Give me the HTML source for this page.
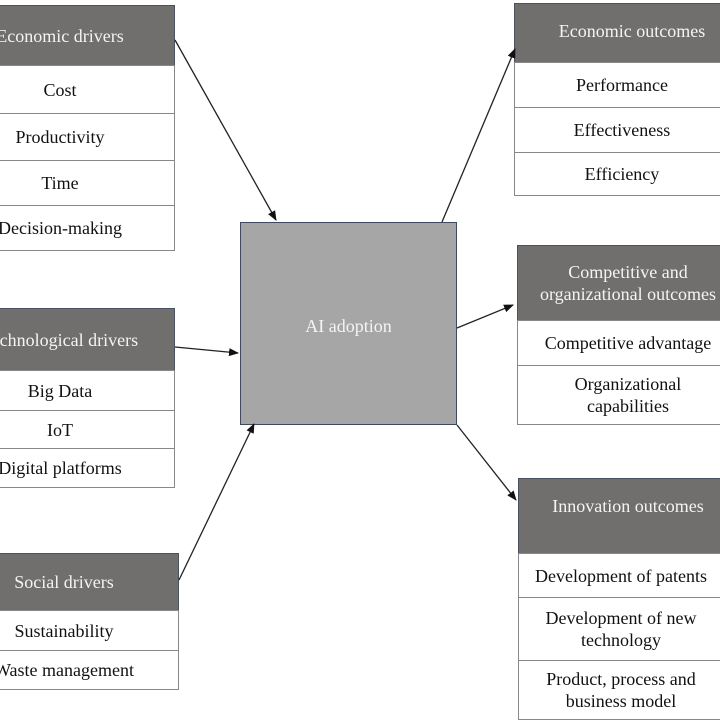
<!DOCTYPE html><html><head><style>
body{margin:0;width:720px;height:720px;background:#fff;position:relative;overflow:hidden;font-family:"Liberation Serif",serif;}
.b{position:absolute;box-sizing:border-box;display:flex;align-items:center;justify-content:center;text-align:center;font-size:18px;line-height:22px;color:#111;}
.h{background:#716e6e;color:#f4f4f4;border:1px solid #4a5160;}
.r{background:#fff;border:1.5px solid #888;}
</style></head><body>
<div class="b h" style="left:-55px;top:5px;width:230px;height:61px">Economic drivers</div>
<div class="b r" style="left:-55px;top:65px;width:230px;height:49px">Cost</div>
<div class="b r" style="left:-55px;top:113px;width:230px;height:48px">Productivity</div>
<div class="b r" style="left:-55px;top:160px;width:230px;height:46px">Time</div>
<div class="b r" style="left:-55px;top:205px;width:230px;height:46px">Decision-making</div>

<div class="b h" style="left:-55px;top:308px;width:230px;height:63px">Technological drivers</div>
<div class="b r" style="left:-55px;top:370px;width:230px;height:41px">Big Data</div>
<div class="b r" style="left:-55px;top:410px;width:230px;height:39px">IoT</div>
<div class="b r" style="left:-55px;top:448px;width:230px;height:40px">Digital platforms</div>

<div class="b h" style="left:-51px;top:553px;width:230px;height:58px">Social drivers</div>
<div class="b r" style="left:-51px;top:610px;width:230px;height:41px">Sustainability</div>
<div class="b r" style="left:-51px;top:650px;width:230px;height:40px">Waste management</div>

<div class="b" style="left:240px;top:222px;width:217px;height:203px;background:#a6a6a6;border:1.5px solid #3f4a5e;color:#f4f4f4;align-items:flex-start;padding-top:92px">AI adoption</div>

<div class="b h" style="left:514px;top:3px;width:236px;height:60px;padding-bottom:4px">Economic outcomes</div>
<div class="b r" style="left:514px;top:62px;width:236px;height:46px;padding-right:20px">Performance</div>
<div class="b r" style="left:514px;top:107px;width:236px;height:46px;padding-right:20px">Effectiveness</div>
<div class="b r" style="left:514px;top:152px;width:236px;height:44px;padding-right:20px">Efficiency</div>

<div class="b h" style="left:517px;top:245px;width:222px;height:76px">Competitive and<br>organizational outcomes</div>
<div class="b r" style="left:517px;top:320px;width:222px;height:46px">Competitive advantage</div>
<div class="b r" style="left:517px;top:365px;width:222px;height:60px">Organizational<br>capabilities</div>

<div class="b h" style="left:518px;top:478px;width:220px;height:76px;align-items:flex-start;padding-top:16px">Innovation outcomes</div>
<div class="b r" style="left:518px;top:553px;width:220px;height:45px;padding-right:14px">Development of patents</div>
<div class="b r" style="left:518px;top:597px;width:220px;height:64px;padding-right:14px">Development of new<br>technology</div>
<div class="b r" style="left:518px;top:660px;width:220px;height:60px;padding-right:14px">Product, process and<br>business model</div>

<svg width="720" height="720" style="position:absolute;left:0;top:0">
<defs><marker id="a" markerWidth="10" markerHeight="8" refX="9" refY="4" orient="auto" markerUnits="userSpaceOnUse"><path d="M0,0L10,4L0,8z" fill="#111"/></marker></defs>
<g stroke="#222" stroke-width="1.3" marker-end="url(#a)">
<line x1="175" y1="40" x2="276" y2="220"/>
<line x1="175" y1="347" x2="238" y2="353"/>
<line x1="179" y1="580" x2="254" y2="424"/>
<line x1="442" y1="222" x2="515" y2="49"/>
<line x1="457" y1="328" x2="513" y2="305"/>
<line x1="457" y1="425" x2="516" y2="500"/>
</g></svg>
</body></html>
